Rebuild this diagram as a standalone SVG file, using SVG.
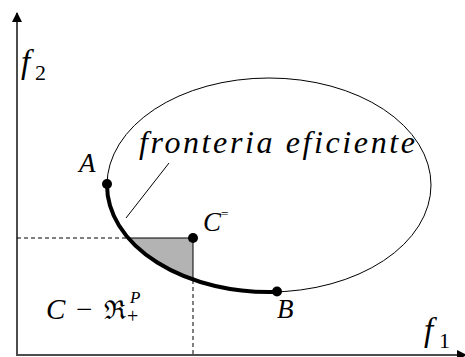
<svg xmlns="http://www.w3.org/2000/svg" width="465" height="357" viewBox="0 0 465 357">
<style>
.t{font-family:"Liberation Serif","DejaVu Serif",serif;font-style:italic;fill:#000}
.u{font-family:"Liberation Serif","DejaVu Serif",serif;fill:#000}
.axis{stroke:#4d4d4d;stroke-width:2;fill:none}
.dash{stroke:#000;stroke-width:1;stroke-dasharray:4 3;fill:none}
</style>
<defs>
<marker id="ah" markerWidth="10" markerHeight="10" refX="9" refY="5" orient="auto" markerUnits="userSpaceOnUse">
<path d="M0,0 L10,5 L0,10 Z" fill="#000"/>
</marker>
</defs>
<rect width="465" height="357" fill="#fff"/>
<g id="axes">
<line class="axis" x1="17" y1="355" x2="17" y2="13" marker-end="url(#ah)"/>
<line class="axis" x1="16" y1="355" x2="466" y2="355" marker-end="url(#ah)"/>
<text class="t" x="21" y="73" font-size="33">f</text>
<text class="u" x="35" y="80" font-size="22">2</text>
<text class="t" x="424" y="341" font-size="33">f</text>
<text class="u" x="439" y="348" font-size="22">1</text>
</g>
<g id="region">
<path d="M128.2 238 L193 238 L193 279.5 A162 107 0 0 1 128.2 238 Z" fill="#b3b3b3" stroke="#000" stroke-width="1"/>
</g>
<g id="connectors">
<line class="dash" x1="17" y1="238" x2="128" y2="238"/>
<line class="dash" x1="193" y1="280" x2="193" y2="355"/>
<line x1="169" y1="163" x2="126" y2="218" stroke="#000" stroke-width="1"/>
</g>
<g id="set-C">
<ellipse cx="269" cy="185" rx="162" ry="107" fill="none" stroke="#000" stroke-width="1"/>
</g>
<g id="frontier">
<path d="M107 185 A162 107 0 0 0 277 291.9" fill="none" stroke="#000" stroke-width="4"/>
<text class="t" x="139" y="153" font-size="32" textLength="276" lengthAdjust="spacing">fronteria eficiente</text>
</g>
<g id="point-A">
<circle cx="107" cy="184" r="5" fill="#000"/>
<text class="t" x="79" y="172" font-size="27">A</text>
</g>
<g id="point-B">
<circle cx="277" cy="291.5" r="5" fill="#000"/>
<text class="t" x="277" y="318" font-size="27">B</text>
</g>
<g id="point-C">
<circle cx="193" cy="238" r="5" fill="#000"/>
<text class="t" x="203" y="231" font-size="27">C</text>
<text class="u" x="221" y="218" font-size="13">=</text>
</g>
<g id="label-cone">
<text class="t" x="46" y="319" font-size="29">C</text>
<text class="u" x="76" y="319" font-size="29">−</text>
<text class="u" x="104" y="319" font-size="26">ℜ</text>
<text class="t" x="130" y="303" font-size="17">P</text>
<text class="u" x="127" y="323" font-size="20">+</text>
</g>
</svg>
